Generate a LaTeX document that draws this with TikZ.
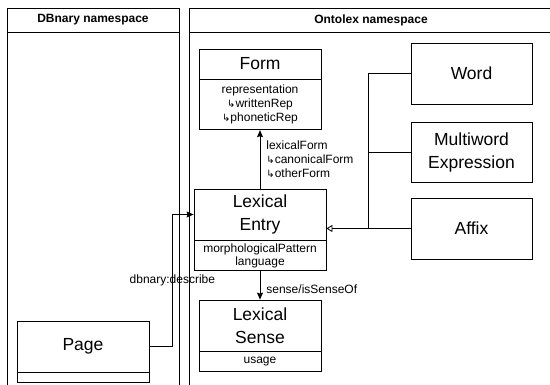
\documentclass[tikz,border=0pt]{standalone}
\usepackage{fontspec}
\setmainfont{Liberation Sans}
\newfontfamily\arrowfont{DejaVu Sans}
\usetikzlibrary{arrows.meta}
\usetikzlibrary{positioning}
\newcommand{\hookarr}{{\arrowfont\fontsize{10}{12}\selectfont ↳}}
\def\FormAttrs{representation\\
\hookarr writtenRep\\
\hookarr phoneticRep}
\def\FormLinks{lexicalForm\\
\hookarr canonicalForm\\
\hookarr otherForm}
\def\EntryAttrs{morphologicalPattern\\
language}

\begin{document}
\begin{tikzpicture}[x=1pt, y=-1pt,
                    line width=0.8pt,
                    every node/.style={font=\fontsize{12}{14}\selectfont},
                    pool/.style={font=\fontsize{12}{14}\selectfont\bfseries},
                    title/.style={draw, align=center, inner sep=0pt,
                                  font=\fontsize{17.5}{23}\selectfont},
                    attrs/.style={draw, align=center, inner sep=0pt},
                    flow/.style={-{Stealth[length=7pt,width=6pt,inset=1pt]}},
                    inherit/.style={-{Triangle[open,length=6pt,width=7pt]}}]

    \useasboundingbox (0,0) rectangle (550,385);

    % namespaces
    \draw (7,385) |- (179,8) -- (179,385);
    \draw (7,32) -- (179,32);
    \node[pool] (dbnary) at (93,20) {DBnary namespace};
    \draw (189,385) |- (550,8);
    \draw (189,32) -- (550,32);
    \node[pool] (ontolex) at (371,20) {Ontolex namespace};

    % classes
    \node[title, minimum width=122pt, minimum height=30pt] (form) at (260,64) {Form};
    \node[attrs, below=0pt of form, minimum width=122pt, minimum height=50pt] (formattrs) {\FormAttrs};
    \node[title, minimum width=132pt, minimum height=51pt] (entry) at (260,214.5) {Lexical\\Entry};
    \node[attrs, below=0pt of entry, minimum width=132pt, minimum height=30pt,
          font=\fontsize{12}{13}\selectfont] (entryattrs) {\EntryAttrs};
    \node[title, minimum width=122pt, minimum height=51pt] (sense) at (260,325.5) {Lexical\\Sense};
    \node[attrs, below=0pt of sense, minimum width=122pt, minimum height=20pt] (senseattrs) {usage};
    \node[title, minimum width=132pt, minimum height=51pt] (page) at (83,346.5) {Page};
    \node[attrs, below=0pt of page, minimum width=132pt, minimum height=10pt] (pageattrs) {};
    \node[title, minimum width=121pt, minimum height=61pt] (word) at (471.5,73.5) {Word};
    \node[title, minimum width=121pt, minimum height=60pt] (multi) at (471.5,152) {Multiword\\Expression};
    \node[title, minimum width=121pt, minimum height=61pt] (affix) at (471.5,228.5) {Affix};

    % relations
    \draw[flow] (entry.north) -- (formattrs.south)
        node[midway, anchor=west, align=left, inner sep=0pt, xshift=6pt] {\FormLinks};
    \draw[flow] (entryattrs.south) -- (sense.north)
        node[midway, anchor=west, inner sep=0pt, xshift=6pt, yshift=-4pt] {sense/isSenseOf};
    \draw[flow] (page.east) -- ++(23,0) |- node[pos=0.25, inner sep=1pt] {dbnary:describe} (entry.west);

    \coordinate (join) at (368,228.5);
    \draw[inherit] (affix.west) -- (entry.east |- affix.west);
    \draw (word.west) -| (join);
    \draw (multi.west) -| (join);
\end{tikzpicture}
\end{document}
